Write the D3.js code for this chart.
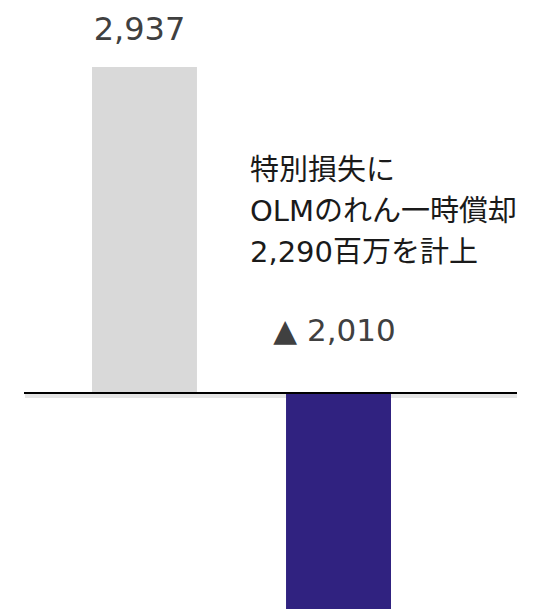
<!DOCTYPE html>
<html><head><meta charset="utf-8">
<script src="https://cdn.jsdelivr.net/npm/d3@7"></script>
<style>body{margin:0;background:#fff}svg{display:block}</style>
</head><body><svg id="c" width="550" height="609"></svg>
<script>
const categories = ["前期", "当期"];
const values = [2937, -2010];
const valueLabels = ["2,937", "▲ 2,010"];
const annotationLines = ["特別損失に", "OLMのれん一時償却", "2,290百万を計上"];
const colors = ["#d9d9d9", "#302280"];

const svg = d3.select("#c");
const font = "'DejaVu Sans','Noto Sans CJK JP',sans-serif";
const x = d3.scaleBand().domain(categories).range([92, 391]).paddingInner(0.459).paddingOuter(0);
const y = d3.scaleLinear().domain([-2010, 2937]).range([616, 67]);

// baseline shadow
svg.append("line").attr("x1", 25).attr("x2", 517).attr("y1", y(0) + 3).attr("y2", y(0) + 3)
  .attr("stroke", "#000").attr("stroke-opacity", 0.1).attr("stroke-width", 4);

svg.selectAll("rect.bar").data(values).join("rect").attr("class", "bar")
  .attr("x", (d, i) => x(categories[i]))
  .attr("width", x.bandwidth())
  .attr("y", d => y(Math.max(0, d)))
  .attr("height", d => Math.abs(y(d) - y(0)))
  .attr("fill", (d, i) => colors[i]);

svg.append("line").attr("x1", 24).attr("x2", 517).attr("y1", y(0)).attr("y2", y(0))
  .attr("stroke", "#000").attr("stroke-width", 2);

// value labels
svg.append("text").attr("x", x(categories[0]) + x.bandwidth() / 2 - 5).attr("y", 40)
  .attr("text-anchor", "middle").attr("font-family", font).attr("font-size", 32)
  .attr("fill", "#404040").text(valueLabels[0]);
svg.append("text").attr("x", x(categories[1]) + x.bandwidth() / 2 - 4).attr("y", 341)
  .attr("text-anchor", "middle").attr("font-family", font).attr("font-size", 31)
  .attr("fill", "#404040").text(valueLabels[1]);

svg.append("g").selectAll("text").data(annotationLines).join("text")
  .attr("x", 250).attr("y", (d, i) => 180 + i * 41)
  .attr("font-family", font).attr("font-size", 29).attr("fill", "#1a1a1a").text(d => d);
</script></body></html>
